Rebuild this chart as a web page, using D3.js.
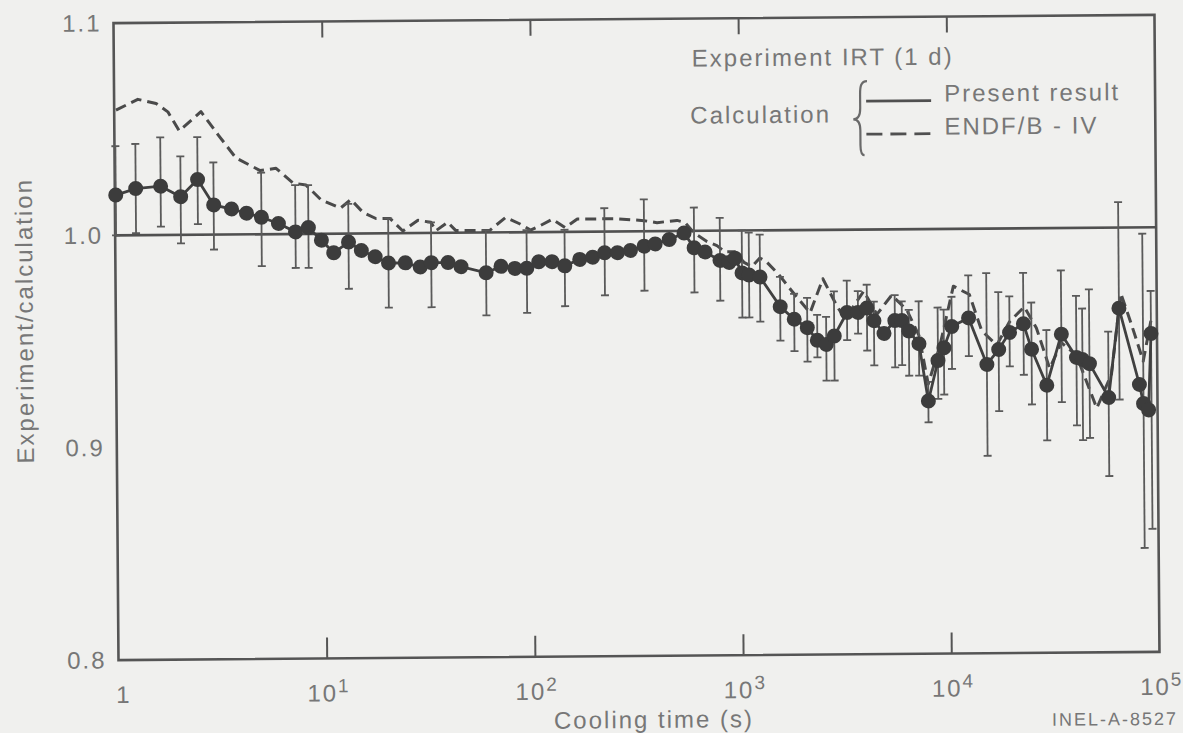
<!DOCTYPE html>
<html>
<head>
<meta charset="utf-8">
<script src="https://cdn.jsdelivr.net/npm/d3@7"></script>
<style>
  html, body { margin: 0; padding: 0; background: #f0f0ee; }
  svg { display: block; }
  text { font-family: "Liberation Sans", Arial, sans-serif; fill: #777; letter-spacing: 2px; }
</style>
</head>
<body>
<div id="chart"></div>
<script>
// Experiment IRT (1 d) / calculation
var expTime = [1.01,1.26,1.66,2.07,2.50,2.98,3.63,4.28,5.05,6.09,
  7.35,8.48,9.78,11.2,13.2,15.2,17.7,20.5,24.7,29.1,
  32.9,39.6,45.7,60.3,71.1,82.9,94.6,108,125,144,
  170,196,224,258,298,347,392,458,540,603,
  680,802,886,946,1022,1104,1246,1554,1813,2093,
  2336,2579,2818,3251,3670,4053,4377,4887,5515,5959,
  6436,7186,7935,8857,9465,10337,12465,15204,17346,19588,
  22860,24950,29440,34730,40965,43770,47280,58300,65800,82000,
  85700,90550,93600];
var expRatio = [1.019,1.022,1.023,1.018,1.026,1.014,1.012,1.010,1.008,1.005,
  1.001,1.003,0.997,0.991,0.996,0.992,0.989,0.986,0.986,0.984,
  0.986,0.986,0.984,0.981,0.984,0.983,0.983,0.986,0.986,0.984,
  0.987,0.988,0.990,0.990,0.991,0.993,0.994,0.996,0.999,0.992,
  0.990,0.986,0.985,0.987,0.980,0.979,0.978,0.964,0.958,0.954,
  0.948,0.946,0.950,0.961,0.961,0.963,0.957,0.951,0.957,0.957,
  0.952,0.946,0.919,0.938,0.944,0.954,0.958,0.936,0.943,0.951,
  0.955,0.943,0.926,0.950,0.939,0.938,0.936,0.920,0.962,0.926,
  0.917,0.914,0.950];
// error bar ends (null = no bar drawn)
var expErrHigh = [1.042,1.043,1.046,1.037,1.046,1.034,null,null,1.029,null,
  1.023,1.023,null,null,1.014,null,null,1.007,null,null,
  1.005,null,null,1.001,null,null,1.001,null,null,1.001,
  null,null,1.011,null,null,1.015,null,null,null,1.011,
  null,1.006,null,null,1.000,0.999,0.998,0.978,0.970,0.968,
  0.960,0.959,0.971,0.976,0.971,0.974,0.966,null,0.969,0.966,
  0.962,0.966,0.928,0.963,0.962,0.968,0.978,0.979,0.970,0.968,
  0.979,0.965,0.952,0.980,0.968,0.962,0.971,0.951,1.012,null,
  0.997,null,0.970];
var expErrLow = [1.000,1.001,1.004,0.996,1.005,0.993,null,null,0.985,null,
  0.984,0.984,null,null,0.974,null,null,0.965,null,null,
  0.965,null,null,0.961,null,null,0.962,null,null,0.965,
  null,null,0.970,null,null,0.972,null,null,null,0.971,
  null,0.967,null,null,0.959,0.959,0.957,0.948,0.943,0.938,
  0.940,0.929,0.929,0.948,0.951,0.943,0.936,null,0.935,0.936,
  0.931,0.931,0.909,0.920,0.922,0.934,0.940,0.893,0.914,0.935,
  0.931,0.917,0.900,0.918,0.907,0.900,0.901,0.883,0.919,null,
  0.849,null,0.858];

// ENDF/B-IV calculation (dashed)
var endfTime = [1.02,1.30,1.59,1.81,2.05,2.61,3.15,3.83,5.00,5.96,
  7.19,8.29,9.78,12.1,13.6,15.5,17.9,20.9,24.1,28.5,
  32.9,34.7,39.6,43.3,53.4,63.0,75.1,87.6,98.9,110,
  126,145,166,192,224,258,347,401,500,546,
  603,695,776,848,946,1045,1141,1246,1346,1537,
  1813,2162,2496,2912,3180,3920,4525,5338,6295,7186,
  7935,9056,10565,12600,14386,16970,19590,23100,26370,30430,
  34730,40965,51060,60260,67270,75100,85700,93600];
var endfRatio = [1.059,1.064,1.062,1.058,1.049,1.058,1.047,1.036,1.030,1.031,
  1.024,1.023,1.016,1.012,1.016,1.010,1.007,1.007,1.001,1.006,
  1.005,1.001,1.005,1.001,1.001,1.001,1.007,1.004,1.001,1.003,
  1.006,1.002,1.006,1.006,1.006,1.006,1.005,1.004,1.005,1.004,
  0.999,0.995,0.993,0.990,0.990,0.985,0.983,0.987,0.985,0.979,
  0.970,0.961,0.977,0.964,0.958,0.971,0.960,0.969,0.962,0.950,
  0.927,0.945,0.973,0.969,0.952,0.945,0.956,0.963,0.953,0.934,
  0.946,0.940,0.915,0.931,0.969,0.955,0.937,0.956];

// present result = reference line
var presentTime = [1, 100000];
var presentRatio = [1.0, 1.0];

var xTicks = [1, 10, 100, 1000, 10000, 100000];
var yTicks = [0.8, 0.9, 1.0, 1.1];

var w = 1183, h = 733;
var margin = {top: 19, right: 26, bottom: 77, left: 116};
var width = w - margin.left - margin.right,
    height = h - margin.top - margin.bottom;

var x = d3.scaleLog().domain([1, 100000]).range([0, width]);
var y = d3.scaleLinear().domain([0.8, 1.1]).range([height, 0]);

var svg = d3.select("#chart").append("svg")
    .attr("width", w)
    .attr("height", h);

svg.append("rect").attr("width", w).attr("height", h).attr("fill", "#f0f0ee");

// the scan is slightly tilted
var tilt = svg.append("g").attr("transform", "rotate(-0.45,636,340)");
var g = tilt.append("g").attr("transform", "translate(" + margin.left + "," + margin.top + ")");

// frame
g.append("rect")
    .attr("width", width).attr("height", height)
    .attr("fill", "none").attr("stroke", "#555").attr("stroke-width", 2.6);

// ticks
var bottomAxis = g.append("g")
    .attr("transform", "translate(0," + height + ")")
    .call(d3.axisBottom(x).tickValues(xTicks.slice(1, -1)).tickSize(-21).tickSizeOuter(0).tickFormat(""));
var topAxis = g.append("g")
    .call(d3.axisTop(x).tickValues(xTicks.slice(1, -1)).tickSize(-16).tickSizeOuter(0).tickFormat(""));
[bottomAxis, topAxis].forEach(function(a) {
  a.select(".domain").remove();
  a.selectAll("line").attr("stroke", "#555").attr("stroke-width", 2);
});

var leftAxis = g.append("g")
    .call(d3.axisLeft(y).tickValues(yTicks).tickSize(0).tickPadding(12).tickFormat(d3.format(".1f")));
leftAxis.select(".domain").remove();
leftAxis.selectAll("text")
    .attr("font-size", 24).attr("fill", "#777")
    .style("font-family", "'Liberation Sans', Arial, sans-serif");

// x tick labels with superscript exponents
var xl = g.append("g").selectAll("text").data(xTicks).enter().append("text")
    .attr("x", function(d) { return x(d) + (d === 1 ? 5 : 2); })
    .attr("y", height + 43)
    .attr("text-anchor", "middle")
    .attr("font-size", 24);
xl.each(function(d) {
  var t = d3.select(this);
  if (d === 1) { t.text("1"); return; }
  t.append("tspan").text("10");
  t.append("tspan").attr("dy", -9).attr("font-size", 19).text(Math.round(Math.log10(d)));
});

// axis titles
g.append("text")
    .attr("x", 535).attr("y", height + 72)
    .attr("text-anchor", "middle")
    .attr("font-size", 24)
    .text("Cooling time (s)");

g.append("text")
    .attr("transform", "translate(" + (33 - margin.left) + "," + (316 - margin.top) + ") rotate(-90)")
    .attr("text-anchor", "middle")
    .attr("font-size", 24)
    .text("Experiment/calculation");

g.append("text")
    .attr("x", 996).attr("y", height + 73)
    .attr("text-anchor", "middle")
    .attr("font-size", 18)
    .attr("fill", "#8c8c8c")
    .text("INEL-A-8527");

// present result line
var line = d3.line()
    .x(function(d) { return x(d[0]); })
    .y(function(d) { return y(d[1]); });

g.append("path")
    .datum(d3.zip(presentTime, presentRatio))
    .attr("fill", "none")
    .attr("stroke", "#505050")
    .attr("stroke-width", 2.6)
    .attr("d", line);

// ENDF/B-IV dashed
g.append("path")
    .datum(d3.zip(endfTime, endfRatio))
    .attr("fill", "none")
    .attr("stroke", "#4a4a4a")
    .attr("stroke-width", 3)
    .attr("stroke-dasharray", "11,6")
    .attr("stroke-linejoin", "round")
    .attr("d", line);

// error bars
var bars = d3.range(expTime.length).filter(function(i) { return expErrHigh[i] != null; });
var eb = g.append("g").attr("stroke", "#5a5a5a").attr("stroke-width", 1.8);
eb.selectAll("line.v").data(bars).enter().append("line")
    .attr("x1", function(i) { return x(expTime[i]); })
    .attr("x2", function(i) { return x(expTime[i]); })
    .attr("y1", function(i) { return y(expErrHigh[i]); })
    .attr("y2", function(i) { return y(expErrLow[i]); });
eb.selectAll("line.hi").data(bars).enter().append("line")
    .attr("x1", function(i) { return x(expTime[i]) - 4; })
    .attr("x2", function(i) { return x(expTime[i]) + 4; })
    .attr("y1", function(i) { return y(expErrHigh[i]); })
    .attr("y2", function(i) { return y(expErrHigh[i]); });
eb.selectAll("line.lo").data(bars).enter().append("line")
    .attr("x1", function(i) { return x(expTime[i]) - 4; })
    .attr("x2", function(i) { return x(expTime[i]) + 4; })
    .attr("y1", function(i) { return y(expErrLow[i]); })
    .attr("y2", function(i) { return y(expErrLow[i]); });

// experiment line + dots
var expData = d3.zip(expTime, expRatio);
g.append("path")
    .datum(expData)
    .attr("fill", "none")
    .attr("stroke", "#404040")
    .attr("stroke-width", 2.8)
    .attr("d", line);

g.append("g").selectAll("circle").data(expData).enter().append("circle")
    .attr("cx", function(d) { return x(d[0]); })
    .attr("cy", function(d) { return y(d[1]); })
    .attr("r", 7.5)
    .attr("fill", "#3c3c3c");

// legend
var lg = g.append("g").attr("transform", "translate(" + (-margin.left) + "," + (-margin.top) + ")");
lg.append("text").attr("x", 694).attr("y", 67).attr("font-size", 24).text("Experiment IRT (1 d)");
lg.append("text").attr("x", 692).attr("y", 124).attr("font-size", 24).text("Calculation");

var brace = d3.path();
brace.moveTo(869, 83);
brace.bezierCurveTo(863, 83, 862, 88, 862, 96);
brace.lineTo(862, 110);
brace.bezierCurveTo(862, 117, 860, 121, 855, 121);
brace.bezierCurveTo(860, 121, 862, 125, 862, 132);
brace.lineTo(862, 147);
brace.bezierCurveTo(862, 153, 863, 157, 866, 157);
lg.append("path").attr("d", brace.toString())
    .attr("fill", "none").attr("stroke", "#6a6a6a").attr("stroke-width", 2.2);

lg.append("line").attr("x1", 868).attr("x2", 933).attr("y1", 103).attr("y2", 103)
    .attr("stroke", "#505050").attr("stroke-width", 2.8);
lg.append("line").attr("x1", 868).attr("x2", 933).attr("y1", 136).attr("y2", 136)
    .attr("stroke", "#505050").attr("stroke-width", 2.8).attr("stroke-dasharray", "16,8");
lg.append("text").attr("x", 946).attr("y", 104).attr("font-size", 24).text("Present result");
lg.append("text").attr("x", 946).attr("y", 137).attr("font-size", 24).text("ENDF/B - IV");
</script>
</body>
</html>
